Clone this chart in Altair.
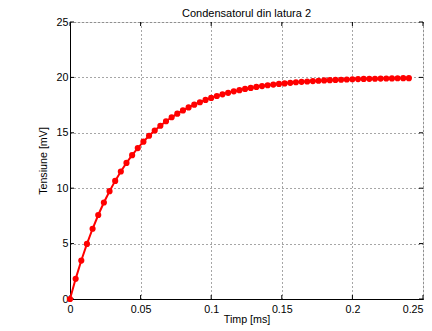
import altair as alt
import pandas as pd

# Time values [ms]
t_ms = [0.000, 0.004, 0.008, 0.012, 0.016, 0.020, 0.024, 0.028, 0.032, 0.036,
        0.040, 0.044, 0.048, 0.052, 0.056, 0.060, 0.064, 0.068, 0.072, 0.076,
        0.080, 0.084, 0.088, 0.092, 0.096, 0.100, 0.104, 0.108, 0.112, 0.116,
        0.120, 0.124, 0.128, 0.132, 0.136, 0.140, 0.144, 0.148, 0.152, 0.156,
        0.160, 0.164, 0.168, 0.172, 0.176, 0.180, 0.184, 0.188, 0.192, 0.196,
        0.200, 0.204, 0.208, 0.212, 0.216, 0.220, 0.224, 0.228, 0.232, 0.236,
        0.240]
# Voltage values [mV]
v_mv = [0.00, 1.82, 3.47, 4.97, 6.34, 7.58, 8.71, 9.73, 10.66, 11.51,
        12.28, 12.98, 13.62, 14.20, 14.73, 15.21, 15.64, 16.04, 16.40, 16.73,
        17.02, 17.29, 17.54, 17.76, 17.97, 18.15, 18.32, 18.47, 18.61, 18.74,
        18.85, 18.96, 19.05, 19.14, 19.22, 19.29, 19.35, 19.41, 19.46, 19.51,
        19.56, 19.60, 19.63, 19.67, 19.70, 19.73, 19.75, 19.77, 19.79, 19.81,
        19.83, 19.85, 19.86, 19.87, 19.88, 19.89, 19.90, 19.91, 19.92, 19.93,
        19.93]

x_ticks = [0, 0.05, 0.1, 0.15, 0.2, 0.25]
y_ticks = [0, 5, 10, 15, 20, 25]

chart_title = "Condensatorul din latura 2"
x_title = "Timp [ms]"
y_title = "Tensiune [mV]"

W, H = 353, 277
FONT = "Liberation Sans"
FS = 10.7
TL = 4  # inward tick length

df = pd.DataFrame({"t": t_ms, "v": v_mv})
dfx = pd.DataFrame({"t": x_ticks})
dfy = pd.DataFrame({"v": y_ticks})

xs = alt.Scale(domain=[0, 0.25], nice=False, zero=False)
ys = alt.Scale(domain=[0, 25], nice=False, zero=False)

x_axis = alt.Axis(values=x_ticks, format="~g", grid=True, gridDash=[1, 3],
                  gridColor="#000000", gridOpacity=0.7, gridWidth=1,
                  ticks=False, tickSize=0, domain=True, domainColor="#000000",
                  labelPadding=5, labelFlush=False, labelOverlap=False,
                  labelAlign=alt.expr("datum.value >= 0.249 ? 'right' : 'center'"),
                  labelFont=FONT, labelFontSize=FS, labelColor="#000000",
                  titleFont=FONT, titleFontSize=FS, titleFontWeight="normal",
                  titleColor="#000000", titlePadding=1)
y_axis = alt.Axis(values=y_ticks, format="~g", grid=True, gridDash=[1, 3],
                  gridColor="#000000", gridOpacity=0.7, gridWidth=1,
                  ticks=False, tickSize=0, domain=True, domainColor="#000000",
                  labelPadding=2, labelFlush=False, labelOverlap=False,
                  labelFont=FONT, labelFontSize=FS, labelColor="#000000",
                  titleFont=FONT, titleFontSize=FS, titleFontWeight="normal",
                  titleColor="#000000", titlePadding=8)

X = alt.X("t:Q", scale=xs, title=x_title, axis=x_axis)
Y = alt.Y("v:Q", scale=ys, title=y_title, axis=y_axis)

base = alt.Chart(df).encode(x=X, y=Y)
line = base.mark_line(color="#ff0000", strokeWidth=2, clip=False)
pts = base.mark_circle(color="#ff0000", size=38, opacity=1, clip=False)

tick_b = alt.Chart(dfx).mark_rule(color="#000000", strokeWidth=1).encode(
    x=X, y=alt.value(H), y2=alt.value(H - TL))
tick_t = alt.Chart(dfx).mark_rule(color="#000000", strokeWidth=1).encode(
    x=X, y=alt.value(0), y2=alt.value(TL))
tick_l = alt.Chart(dfy).mark_rule(color="#000000", strokeWidth=1).encode(
    y=Y, x=alt.value(0), x2=alt.value(TL))
tick_r = alt.Chart(dfy).mark_rule(color="#000000", strokeWidth=1).encode(
    y=Y, x=alt.value(W), x2=alt.value(W - TL))

chart = alt.layer(tick_b, tick_t, tick_l, tick_r, line, pts).properties(
    width=W, height=H,
    title=alt.Title(chart_title, font=FONT, fontSize=11, fontWeight="normal",
                    color="#000000", offset=-3, anchor="middle"),
    autosize=alt.AutoSizeParams(type="none"),
    padding={"left": 62, "top": 14, "right": 1, "bottom": 32},
).configure_view(stroke="#000000", strokeWidth=1).configure(background="white")

chart.save("out.html", embed_options={"renderer": "svg", "actions": False})
